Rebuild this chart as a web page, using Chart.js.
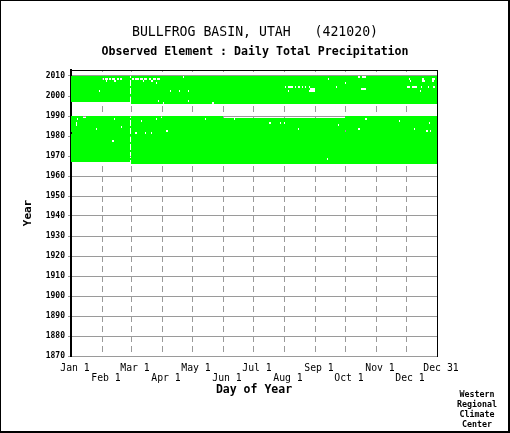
<!DOCTYPE html>
<html>
<head>
<meta charset="utf-8">
<title>Bullfrog Basin, Utah - Daily Total Precipitation</title>
<script src="https://cdn.jsdelivr.net/npm/chart.js@4.4.1/dist/chart.umd.min.js"></script>
<style>
  html, body { margin: 0; padding: 0; background: #fff; }
  canvas { display: block; }
</style>
</head>
<body>
<canvas id="grafico" width="510" height="433"></canvas>
<script>
const fuente = "'DejaVu Sans Mono', monospace";
const gris = "#9a9a9a";

// eje x: primer dia de cada mes (año de 366 dias)
const dayTicks = [1, 32, 61, 92, 122, 153, 183, 214, 245, 275, 306, 336, 367];
const dayLabels = ["Jan 1", "Feb 1", "Mar 1", "Apr 1", "May 1", "Jun 1", "Jul 1",
                   "Aug 1", "Sep 1", "Oct 1", "Nov 1", "Dec 1", "Dec 31"];
const yearTicks = [1870, 1880, 1890, 1900, 1910, 1920, 1930, 1940, 1950, 1960,
                   1970, 1980, 1990, 2000, 2010];

// periodos con registro: [año inicial, dia inicial, año final, dia final]
const periods = [
  [1966, 61, 1989, 366],
  [1996, 61, 2009, 366]
];

// años sin 29 de febrero (dia 60 queda vacio)
const noFeb29 = [1967, 1969, 1970, 1971, 1973, 1974, 1975, 1977, 1978, 1979,
                 1981, 1982, 1983, 1985, 1986, 1987, 1989,
                 1997, 1998, 1999, 2001, 2002, 2003, 2005, 2006, 2007, 2009];

// dias faltantes: [año, dia desde, dia hasta]
const missing = [
  [2009, 113, 113], [2009, 288, 289], [2009, 292, 295],
  [2008, 32, 33], [2008, 35, 37], [2008, 39, 40], [2008, 42, 44], [2008, 47, 48], [2008, 50, 51],
  [2008, 62, 63], [2008, 65, 68], [2008, 70, 72], [2008, 74, 76], [2008, 79, 80], [2008, 83, 85], [2008, 87, 89],
  [2008, 258, 258], [2008, 339, 339], [2008, 352, 353], [2008, 362, 364],
  [2007, 36, 36], [2007, 44, 45], [2007, 73, 73], [2007, 81, 82],
  [2007, 340, 340], [2007, 352, 354], [2007, 362, 363],
  [2006, 86, 86], [2006, 275, 275],
  [2004, 215, 215], [2004, 218, 222], [2004, 225, 225], [2004, 228, 229], [2004, 232, 232],
  [2004, 235, 235], [2004, 239, 239], [2004, 266, 266], [2004, 337, 339], [2004, 342, 346],
  [2004, 351, 351], [2004, 358, 358], [2004, 363, 364],
  [2003, 240, 244], [2003, 291, 295],
  [2002, 29, 29], [2002, 100, 100], [2002, 109, 109], [2002, 118, 118], [2002, 218, 218],
  [2002, 239, 244], [2002, 350, 350],
  [1997, 88, 88], [1997, 118, 118],
  [1996, 93, 93], [1996, 142, 143],
  [1989, 13, 15], [1989, 91, 91], [1989, 153, 274],
  [1988, 7, 7], [1988, 44, 44], [1988, 86, 86], [1988, 135, 135], [1988, 164, 164], [1988, 295, 296],
  [1987, 71, 71], [1987, 329, 329],
  [1986, 6, 6], [1986, 199, 200], [1986, 210, 210], [1986, 214, 214], [1986, 359, 359],
  [1985, 6, 6], [1985, 268, 268],
  [1984, 51, 51],
  [1983, 26, 26], [1983, 228, 228], [1983, 288, 289], [1983, 344, 344],
  [1982, 96, 97], [1982, 275, 275], [1982, 356, 357], [1982, 360, 360],
  [1981, 1, 1], [1981, 65, 66], [1981, 75, 75], [1981, 81, 81],
  [1977, 42, 43],
  [1968, 257, 257]
];

const creditLines = ["Western", "Regional", "Climate", "Center"];

// arma los tramos verdes de cada año saltando los dias faltantes
function armarFilas() {
  const filas = [];
  periods.forEach(p => {
    for (let yr = p[0]; yr <= p[2]; yr++) {
      const first = yr === p[0] ? p[1] : 1;
      const last = yr === p[2] ? p[3] : 366;
      const huecos = missing.filter(m => m[0] === yr).map(m => [m[1], m[2]]);
      if (noFeb29.includes(yr)) huecos.push([60, 60]);
      huecos.sort((a, b) => a[0] - b[0]);
      let inicio = first;
      huecos.forEach(h => {
        if (h[0] > inicio) filas.push({ x: [inicio, Math.min(h[0], last + 1)], y: yr + 0.5 });
        inicio = Math.max(inicio, h[1] + 1);
      });
      if (inicio <= last) filas.push({ x: [inicio, last + 1], y: yr + 0.5 });
    }
  });
  return filas;
}

// marco exterior y leyenda del WRCC
const marco = {
  id: "marco",
  afterDraw(chart) {
    const c = chart.ctx;
    const w = chart.width, h = chart.height;
    c.save();
    c.fillStyle = "#000";
    c.fillRect(0, 0, w, 1);
    c.fillRect(0, 0, 1, h);
    c.fillRect(w - 2, 0, 2, h);
    c.fillRect(0, h - 2, w, 2);
    c.font = "bold 8.3px " + fuente;
    c.textAlign = "center";
    c.textBaseline = "middle";
    creditLines.forEach((t, i) => c.fillText(t, 477, 394.5 + i * 10));
    c.restore();
  }
};

const esBorde = v => v === dayTicks[0] || v === dayTicks[dayTicks.length - 1];

const ctx = document.getElementById("grafico").getContext("2d");
const chart = new Chart(ctx, {
  type: "bar",
  data: {
    datasets: [{
      data: armarFilas(),
      backgroundColor: "#00ff00",
      borderWidth: 0,
      barThickness: 2,
      inflateAmount: 0,
      xAxisID: "x",
      yAxisID: "y"
    }]
  },
  options: {
    indexAxis: "y",
    responsive: false,
    animation: false,
    layout: { padding: 0 },
    plugins: {
      legend: { display: false },
      tooltip: { enabled: false },
      title: {
        display: true,
        text: "BULLFROG BASIN, UTAH   (421020)",
        color: "#000",
        font: { family: fuente, size: 13.2, weight: "normal", lineHeight: "18px" },
        padding: { top: 24, bottom: 2 }
      },
      subtitle: {
        display: true,
        text: "Observed Element : Daily Total Precipitation",
        color: "#000",
        font: { family: fuente, size: 11.6, weight: "bold", lineHeight: "16px" },
        padding: { top: 0, bottom: 10 }
      }
    },
    scales: {
      x: {
        type: "linear",
        position: "bottom",
        min: 1,
        max: 367,
        offset: false,
        afterBuildTicks: s => { s.ticks = dayTicks.map(v => ({ value: v })); },
        afterFit: s => { s.height = 77; },
        grid: {
          color: c => (c.tick && esBorde(c.tick.value)) ? "rgba(0,0,0,0)" : gris,
          lineWidth: 1,
          drawTicks: false,
          offset: false
        },
        border: { display: true, color: gris, width: 1, dash: [6, 4], dashOffset: 4 },
        ticks: {
          autoSkip: false,
          maxRotation: 0,
          minRotation: 0,
          padding: 7,
          labelOffset: 4,
          color: "#000",
          font: { family: fuente, size: 9.8, lineHeight: "10.5px" },
          callback: (v, i) => i % 2 === 0 ? dayLabels[i] : ["", dayLabels[i]]
        },
        title: {
          display: true,
          text: "Day of Year",
          color: "#000",
          font: { family: fuente, size: 11.5, weight: "bold", lineHeight: "12px" },
          padding: { top: 0, bottom: 37 }
        }
      },
      y: {
        type: "linear",
        position: "left",
        min: 1870,
        max: 2013,
        offset: false,
        afterBuildTicks: s => { s.ticks = yearTicks.map(v => ({ value: v })); },
        afterFit: s => { s.width = 71; },
        grid: { color: gris, lineWidth: 1, drawTicks: true, tickLength: 3, offset: false },
        border: { display: true, color: "#000", width: 2 },
        ticks: {
          padding: 3,
          color: "#000",
          font: { family: fuente, size: 8, weight: "bold" },
          callback: v => String(v)
        },
        title: {
          display: true,
          text: "Year",
          color: "#000",
          font: { family: fuente, size: 11, weight: "bold", lineHeight: "12px" },
          padding: { top: 22, bottom: 0 }
        }
      },
      y2: {
        type: "linear",
        position: "right",
        min: 1870,
        max: 2013,
        offset: false,
        afterFit: s => { s.width = 73; },
        grid: { display: false, drawTicks: false, offset: false },
        border: { display: true, color: "#000", width: 1 },
        ticks: { display: false }
      },
      x2: {
        type: "linear",
        position: "top",
        min: 1,
        max: 367,
        offset: false,
        afterFit: s => { s.height = 0; },
        grid: { display: false, drawTicks: false, offset: false },
        border: { display: true, color: "#000", width: 1 },
        ticks: { display: false }
      }
    }
  },
  plugins: [marco]
});
</script>
</body>
</html>
